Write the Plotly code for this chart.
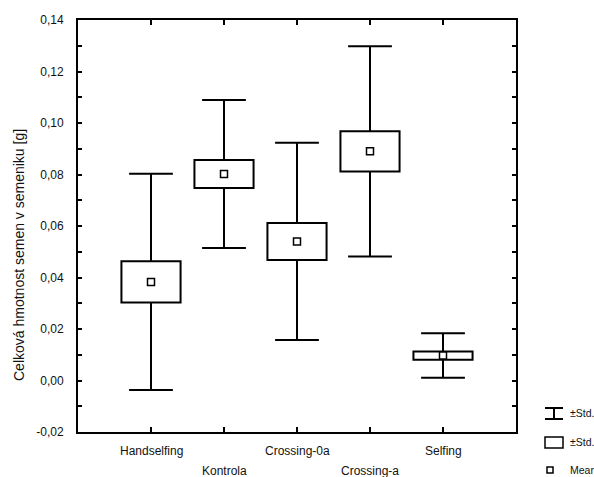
import plotly.graph_objects as go

# Seed weight per treatment group: mean, standard error, standard deviation [g]
categories = ["Handselfing", "Kontrola", "Crossing-0a", "Crossing-a", "Selfing"]
means = [0.0383, 0.0802, 0.0540, 0.0890, 0.0097]
std_err = [0.0080, 0.0054, 0.0072, 0.0078, 0.0016]
std_dev = [0.0420, 0.0287, 0.0383, 0.0408, 0.00865]
label_row = [0, 1, 0, 1, 0]  # staggered category labels (0 = upper, 1 = lower)

y_ticks = [-0.02, 0.00, 0.02, 0.04, 0.06, 0.08, 0.10, 0.12, 0.14]
y_tick_labels = ["-0,02", "0,00", "0,02", "0,04", "0,06", "0,08", "0,10", "0,12", "0,14"]

FONT = "Liberation Sans, Arial, sans-serif"
positions = list(range(1, len(categories) + 1))
cap_half = 0.30
box_width = 0.81

fig = go.Figure()

# ±SE boxes
fig.add_trace(go.Bar(
    x=positions,
    y=[2 * s for s in std_err],
    base=[m - s for m, s in zip(means, std_err)],
    width=box_width,
    marker=dict(color="white", line=dict(color="black", width=2)),
    hoverinfo="skip",
))

# ±SD whiskers: stems from box edge to cap, plus caps
wx, wy = [], []
for p, m, se, sd in zip(positions, means, std_err, std_dev):
    wx += [p, p, None, p, p, None]
    wy += [m + se, m + sd, None, m - se, m - sd, None]
    wx += [p - cap_half, p + cap_half, None, p - cap_half, p + cap_half, None]
    wy += [m + sd, m + sd, None, m - sd, m - sd, None]
fig.add_trace(go.Scatter(
    x=wx, y=wy, mode="lines",
    line=dict(color="black", width=2),
    hoverinfo="skip",
))

# Means
fig.add_trace(go.Scatter(
    x=positions, y=means, mode="markers",
    marker=dict(symbol="square", size=7, color="white",
                line=dict(color="black", width=1.5)),
))

L, R, T, B = 78, 78, 20, 45
W, H = 594, 477
pw, ph = W - L - R, H - T - B


def px(xp):
    return (xp - L) / pw


def py(yp):
    return (H - B - yp) / ph


annotations = []
# Category labels in two staggered rows
for p, name, row in zip(positions, categories, label_row):
    annotations.append(dict(
        x=p, xref="x", y=py(451 + 20 * row), yref="paper",
        text=name, showarrow=False, xanchor="center", yanchor="middle",
        font=dict(family=FONT, size=12, color="#111"),
    ))

# Y axis title
annotations.append(dict(
    x=px(19), xref="paper", y=py(255), yref="paper",
    text="Celková hmotnost semen v semeniku [g]", textangle=-90,
    showarrow=False, xanchor="center", yanchor="middle",
    font=dict(family=FONT, size=14, color="#111"),
))

# Legend entries
legend_text = [("±Std. Dev.", 413), ("±Std. Err.", 442), ("Mean", 470)]
for txt, yp in legend_text:
    annotations.append(dict(
        x=px(568), xref="paper", y=py(yp), yref="paper",
        text=txt, showarrow=False, xanchor="left", yanchor="middle",
        font=dict(family=FONT, size=10.5, color="#111"),
    ))

shapes = [
    # legend: whisker symbol
    dict(type="line", xref="paper", yref="paper", x0=px(545), x1=px(563),
         y0=py(408), y1=py(408), line=dict(color="black", width=2)),
    dict(type="line", xref="paper", yref="paper", x0=px(545), x1=px(563),
         y0=py(419), y1=py(419), line=dict(color="black", width=2)),
    dict(type="line", xref="paper", yref="paper", x0=px(554), x1=px(554),
         y0=py(408), y1=py(419), line=dict(color="black", width=2)),
    # legend: box symbol
    dict(type="rect", xref="paper", yref="paper", x0=px(545), x1=px(563),
         y0=py(437), y1=py(448), line=dict(color="black", width=1.5),
         fillcolor="white"),
    # legend: mean symbol
    dict(type="rect", xref="paper", yref="paper", x0=px(547), x1=px(553),
         y0=py(467), y1=py(473), line=dict(color="black", width=1.5),
         fillcolor="white"),
]

fig.update_layout(
    width=W, height=H,
    margin=dict(l=L, r=R, t=T, b=B, pad=0),
    paper_bgcolor="white", plot_bgcolor="white",
    showlegend=False,
    font=dict(family=FONT, size=12, color="#111"),
    annotations=annotations,
    shapes=shapes,
    xaxis=dict(
        range=[0, len(categories) + 1],
        tickvals=positions, ticktext=[""] * len(positions),
        ticks="inside", ticklen=5, tickwidth=1.5, tickcolor="black",
        showgrid=False, zeroline=False,
        showline=True, linecolor="black", linewidth=2, mirror="ticks",
    ),
    yaxis=dict(
        range=[-0.02, 0.14],
        tickvals=y_ticks, ticktext=y_tick_labels,
        ticks="inside", ticklen=4, tickwidth=1.5, tickcolor="black",
        minor=dict(dtick=0.01, ticks="inside", ticklen=4, tickwidth=1.5,
                   tickcolor="black", showgrid=False),
        showgrid=False, zeroline=False,
        showline=True, linecolor="black", linewidth=2, mirror="ticks",
        tickfont=dict(family=FONT, size=12, color="#111"),
        ticklabelstandoff=10,
    ),
)

fig.write_html("out.html")
